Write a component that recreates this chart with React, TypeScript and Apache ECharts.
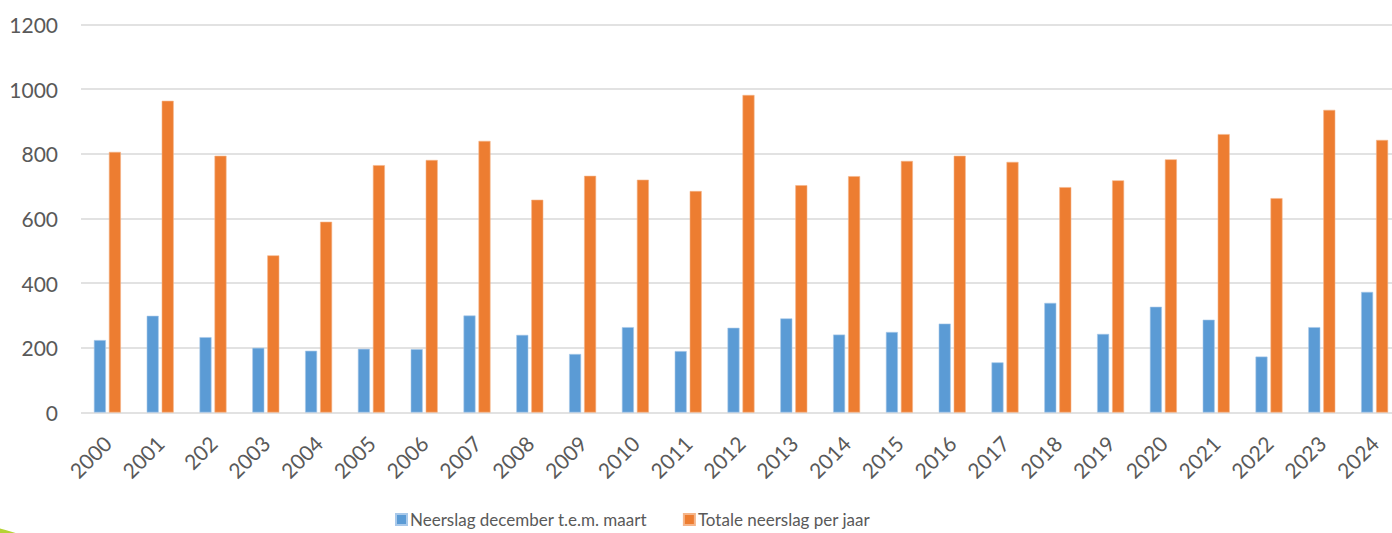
import React, { useEffect, useRef } from "react";
import * as echarts from "echarts";

const years = ["2000","2001","202","2003","2004","2005","2006","2007","2008","2009","2010","2011","2012","2013","2014","2015","2016","2017","2018","2019","2020","2021","2022","2023","2024"];
const winterRain = [224, 299, 233, 200, 191, 197, 196, 300, 240, 181, 264, 190, 262, 291, 241, 249, 275, 155, 339, 243, 327, 287, 173, 264, 373];
const yearRain = [806, 964, 794, 486, 590, 765, 781, 840, 658, 732, 720, 685, 982, 703, 731, 778, 794, 775, 697, 718, 783, 861, 663, 936, 843];
const seriesNames = ["Neerslag december t.e.m. maart", "Totale neerslag per jaar"];

const FONT = "Lato, 'Open Sans', sans-serif";
const TXT = "#595959";

export default function App() {
  const ref = useRef<HTMLDivElement>(null);
  useEffect(() => {
    if (!ref.current) return;
    const chart = echarts.init(ref.current, null, { renderer: "svg" });
    chart.setOption({
      animation: false,
      backgroundColor: "#ffffff",
      textStyle: { fontFamily: FONT },
      grid: { left: 81, right: 9, top: 24.5, bottom: 120.5, containLabel: false },
      legend: {
        left: 395,
        top: 511,
        padding: 0,
        icon: "rect",
        itemWidth: 11,
        itemHeight: 11,
        itemGap: 36,
        textStyle: { fontFamily: FONT, fontSize: 17, color: TXT, padding: [0, 0, 0, -2] },
        data: seriesNames,
      },
      xAxis: {
        type: "category",
        data: years,
        axisLine: { show: false },
        axisTick: { show: false },
        axisLabel: {
          rotate: 45,
          margin: 27,
          fontFamily: FONT,
          fontSize: 21,
          color: TXT,
          interval: 0,
        },
      },
      yAxis: {
        type: "value",
        min: 0,
        max: 1200,
        interval: 200,
        axisLine: { show: false },
        axisTick: { show: false },
        axisLabel: { margin: 23, fontFamily: FONT, fontSize: 21, color: TXT, formatter: (v: number) => String(v) },
        splitLine: { lineStyle: { color: "#d9d9d9", width: 1.5 } },
      },
      series: [
        {
          name: seriesNames[0],
          type: "bar",
          data: winterRain,
          barWidth: 12,
          barGap: "25%",
          itemStyle: { color: "#5b9bd5", borderColor: "#a9c9ea", borderWidth: 0.6 },
        },
        {
          name: seriesNames[1],
          type: "bar",
          data: yearRain,
          barWidth: 12,
          barGap: "25%",
          itemStyle: { color: "#ed7d31", borderColor: "#f5b58a", borderWidth: 0.6 },
        },
      ],
      graphic: [
        {
          type: "circle",
          shape: { cx: -40, cy: 700, r: 176 },
          style: { fill: "#b5d334" },
          silent: true,
          z: -1,
        },
      ],
    });
    return () => chart.dispose();
  }, []);
  return (
    <div style={{ position: "fixed", left: 0, top: 0, width: 1392, height: 533, overflow: "hidden", background: "#fff" }}>
      <div ref={ref} style={{ width: 1410, height: 533 }} />
    </div>
  );
}
